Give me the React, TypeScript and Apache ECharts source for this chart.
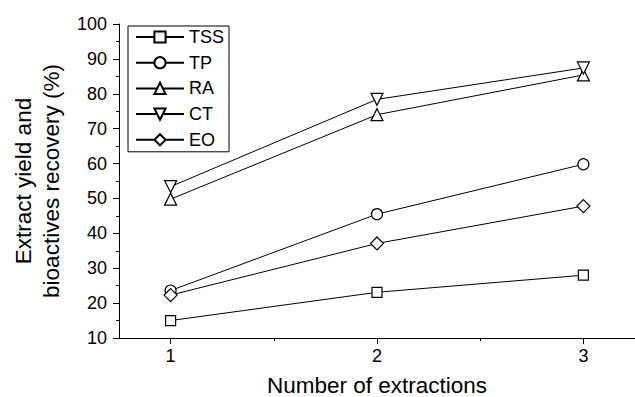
import React, { useEffect, useRef } from "react";
import * as echarts from "echarts";

const xValues = [1, 2, 3];
const seriesNames = ["TSS", "TP", "RA", "CT", "EO"];
const tss = [15.0, 23.1, 28.0];
const tp = [23.6, 45.5, 59.8];
const ra = [49.8, 74.0, 85.4];
const ct = [53.4, 78.4, 87.4];
const eo = [22.3, 37.1, 47.8];
const xLabelValues = [1, 2, 3];
const xMinorValues = [1.5, 2.5];

const FONT = "'Liberation Sans', Arial, Helvetica, sans-serif";

export default function App() {
  const ref = useRef<HTMLDivElement>(null);
  useEffect(() => {
    if (!ref.current) return;
    const chart = echarts.init(ref.current, null, { renderer: "svg" });
    const mk = (name: string, vals: number[], symbol: string, size: number, rotate = 0) => ({
      name,
      type: "line",
      data: xValues.map((x, i) => [x, vals[i]]),
      symbol,
      symbolSize: size,
      symbolRotate: rotate,
      showSymbol: true,
      lineStyle: { color: "#000", width: 1 },
      itemStyle: { color: "#fff", borderColor: "#000", borderWidth: 1.2 },
      emphasis: { disabled: true },
      z: 3,
    });
    chart.setOption({
      animation: false,
      backgroundColor: "#fff",
      textStyle: { fontFamily: FONT, color: "#000" },
      grid: { left: 119, top: 24, bottom: 59, right: 0, containLabel: false, outerBoundsMode: "none" },
      legend: {
        data: seriesNames,
        orient: "vertical",
        left: 128,
        top: 26,
        padding: [2, 5, 3, 7],
        itemGap: 7.7,
        itemWidth: 48,
        itemHeight: 14,
        borderColor: "#000",
        borderWidth: 1,
        textStyle: { fontSize: 18, color: "#000", fontFamily: FONT },
        selectedMode: false,
      },
      xAxis: [
        {
          type: "value",
          min: 0.75,
          max: 3.25,
          name: "Number of extractions",
          nameLocation: "middle",
          nameGap: 36,
          nameTextStyle: { fontSize: 22.5, lineHeight: 22, color: "#000", fontFamily: FONT },
          axisLine: { show: true, lineStyle: { color: "#000", width: 1 } },
          axisTick: { show: true, customValues: xLabelValues, length: 6, lineStyle: { color: "#000" } },
          axisLabel: { customValues: xLabelValues, fontSize: 18, color: "#000", margin: 9, fontFamily: FONT },
          splitLine: { show: false },
        },
        {
          type: "value",
          min: 0.75,
          max: 3.25,
          position: "bottom",
          axisLine: { show: false },
          axisTick: { show: true, customValues: xMinorValues, length: 3, lineStyle: { color: "#000" } },
          axisLabel: { show: false },
          splitLine: { show: false },
        },
      ],
      yAxis: {
        type: "value",
        min: 10,
        max: 100,
        interval: 10,
        name: "Extract yield and\nbioactives recovery (%)",
        nameLocation: "middle",
        nameGap: 54,
        nameTextStyle: { fontSize: 22.5, lineHeight: 28, color: "#000", fontFamily: FONT },
        axisLine: { show: true, lineStyle: { color: "#000", width: 1 } },
        axisTick: { show: true, length: 6, lineStyle: { color: "#000" } },
        minorTick: { show: true, splitNumber: 2, length: 3, lineStyle: { color: "#000" } },
        axisLabel: { fontSize: 18, color: "#000", margin: 12, fontFamily: FONT },
        splitLine: { show: false },
      },
      series: [
        mk("TSS", tss, "rect", 10),
        mk("TP", tp, "circle", 11),
        mk("RA", ra, "triangle", 12),
        mk("CT", ct, "triangle", 12, 180),
        mk("EO", eo, "diamond", 13),
      ],
    });
    return () => chart.dispose();
  }, []);
  return (
    <div
      ref={ref}
      style={{ position: "absolute", left: 0, top: 0, width: 635, height: 397, background: "#fff" }}
    />
  );
}
